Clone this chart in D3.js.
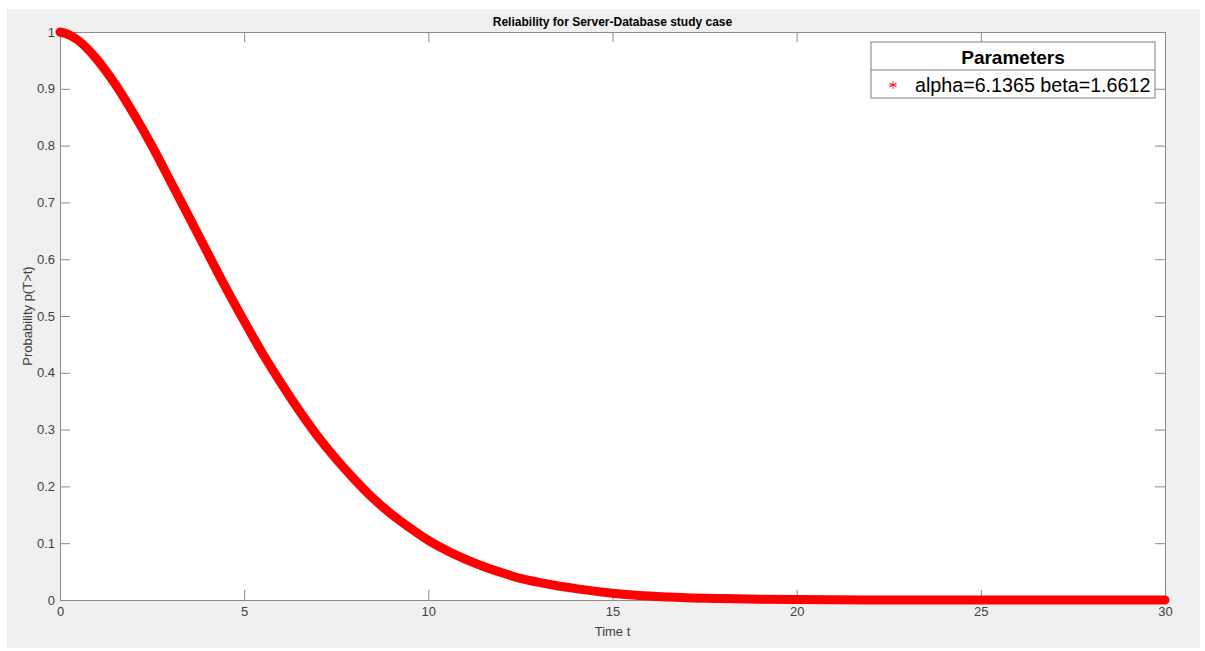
<!DOCTYPE html>
<html>
<head>
<meta charset="utf-8">
<script src="https://cdn.jsdelivr.net/npm/d3@7"></script>
<style>
  body { margin: 0; background: #fff; }
  svg { display: block; font-family: "Liberation Sans", Arial, sans-serif; }
</style>
</head>
<body>
<div id="container"></div>
<script>
// Chart dimensions
const width = 1205;
const height = 651;
const marginTop = 32;
const marginRight = 40;
const marginBottom = 51;
const marginLeft = 60;

// Data
const timeValues = [0, 0.25, 0.5, 1, 1.5, 2, 2.5, 3, 3.5, 4, 4.5, 5, 5.5, 6, 6.5, 7, 7.5, 8, 8.5, 9, 9.5,
  10, 10.5, 11, 11.5, 12, 12.5, 13, 13.5, 14, 15, 16, 17, 18, 19, 20, 21, 22, 23, 24, 25, 26, 27, 28, 29, 30];
const reliability = [1, 0.995, 0.985, 0.952, 0.908, 0.856, 0.799, 0.737, 0.675, 0.612, 0.550, 0.491, 0.434, 0.382, 0.333,
  0.288, 0.248, 0.212, 0.179, 0.151, 0.127, 0.105, 0.087, 0.072, 0.059, 0.048, 0.038, 0.031, 0.025, 0.020,
  0.012, 0.007, 0.004, 0.0025, 0.0015, 0.0008, 0.0004, 0.0002, 0.0001, 0, 0, 0, 0, 0, 0, 0];
const xTicks = [0, 5, 10, 15, 20, 25, 30];
const yTicks = [0, 0.1, 0.2, 0.3, 0.4, 0.5, 0.6, 0.7, 0.8, 0.9, 1];
const chartTitle = "Reliability for Server-Database study case";
const xLabel = "Time t";
const yLabel = "Probability p(T>t)";
const legendTitle = "Parameters";
const legendEntry = "alpha=6.1365 beta=1.6612";

const data = timeValues.map((t, i) => ({ t: t, r: reliability[i] }));

const x = d3.scaleLinear().domain([0, 30]).range([marginLeft, width - marginRight]);
const y = d3.scaleLinear().domain([0, 1]).range([height - marginBottom, marginTop]);

const svg = d3.select("#container").append("svg")
    .attr("width", width)
    .attr("height", height)
    .attr("viewBox", [0, 0, width, height]);

// figure background
svg.append("rect")
    .attr("x", 7).attr("y", 9)
    .attr("width", 1193).attr("height", 639)
    .attr("fill", "#f0f0f0");

// axes background
svg.append("rect")
    .attr("x", marginLeft).attr("y", marginTop)
    .attr("width", width - marginRight - marginLeft)
    .attr("height", height - marginBottom - marginTop)
    .attr("fill", "#fff");

const axisColor = "#8a8a8a";
const tickLen = 10;

// bottom / top axes, ticks pointing inward
svg.append("g")
    .attr("transform", `translate(0,${height - marginBottom})`)
    .call(d3.axisBottom(x).tickValues(xTicks).tickSizeInner(-tickLen).tickSizeOuter(0).tickPadding(7))
    .call(g => g.select(".domain").attr("stroke", axisColor))
    .call(g => g.selectAll(".tick line").attr("stroke", axisColor))
    .call(g => g.selectAll(".tick text").attr("fill", "#404040").style("font-size", "13px"));

svg.append("g")
    .attr("transform", `translate(0,${marginTop})`)
    .call(d3.axisTop(x).tickValues(xTicks).tickSizeInner(-tickLen).tickSizeOuter(0).tickFormat(""))
    .call(g => g.select(".domain").attr("stroke", axisColor))
    .call(g => g.selectAll(".tick line").attr("stroke", axisColor));

// left / right axes
svg.append("g")
    .attr("transform", `translate(${marginLeft},0)`)
    .call(d3.axisLeft(y).tickValues(yTicks).tickSizeInner(-tickLen).tickSizeOuter(0).tickPadding(5)
        .tickFormat(d => d3.format("")(+d.toFixed(1))))
    .call(g => g.select(".domain").attr("stroke", axisColor))
    .call(g => g.selectAll(".tick line").attr("stroke", axisColor))
    .call(g => g.selectAll(".tick text").attr("fill", "#404040").style("font-size", "13px"));

svg.append("g")
    .attr("transform", `translate(${width - marginRight},0)`)
    .call(d3.axisRight(y).tickValues(yTicks).tickSizeInner(-tickLen).tickSizeOuter(0).tickFormat(""))
    .call(g => g.select(".domain").attr("stroke", axisColor))
    .call(g => g.selectAll(".tick line").attr("stroke", axisColor));

// the curve (dense red markers rendered as a thick band)
const line = d3.line()
    .x(d => x(d.t))
    .y(d => y(d.r))
    .curve(d3.curveMonotoneX);

svg.append("path")
    .datum(data)
    .attr("fill", "none")
    .attr("stroke", "#ff0000")
    .attr("stroke-width", 9)
    .attr("stroke-linecap", "round")
    .attr("stroke-linejoin", "round")
    .attr("d", line);

// title and labels
svg.append("text")
    .attr("x", (marginLeft + width - marginRight) / 2)
    .attr("y", 26)
    .attr("text-anchor", "middle")
    .attr("fill", "#000")
    .style("font-size", "12px")
    .style("font-weight", "bold")
    .text(chartTitle);

svg.append("text")
    .attr("x", (marginLeft + width - marginRight) / 2)
    .attr("y", 636)
    .attr("text-anchor", "middle")
    .attr("fill", "#404040")
    .style("font-size", "13px")
    .text(xLabel);

svg.append("text")
    .attr("transform", `translate(32,${(marginTop + height - marginBottom) / 2}) rotate(-90)`)
    .attr("text-anchor", "middle")
    .attr("fill", "#404040")
    .style("font-size", "13px")
    .text(yLabel);

// legend
const legend = svg.append("g").attr("transform", "translate(871,42)");
const legendW = 284;
legend.append("rect")
    .attr("width", legendW).attr("height", 56)
    .attr("fill", "#fff")
    .attr("stroke", "#808080");
legend.append("line")
    .attr("x1", 0).attr("x2", legendW)
    .attr("y1", 28).attr("y2", 28)
    .attr("stroke", "#808080");
legend.append("text")
    .attr("x", legendW / 2)
    .attr("y", 22)
    .attr("text-anchor", "middle")
    .attr("fill", "#000")
    .style("font-size", "19px")
    .style("font-weight", "bold")
    .text(legendTitle);

// asterisk marker
const star = legend.append("g").attr("transform", "translate(22,43)");
[0, 60, 120].forEach(a => {
    star.append("line")
        .attr("x1", 0).attr("y1", -4).attr("x2", 0).attr("y2", 4)
        .attr("transform", `rotate(${a})`)
        .attr("stroke", "#ff0000").attr("stroke-width", 0.8);
});
star.append("line")
    .attr("x1", -4).attr("y1", 0).attr("x2", 4).attr("y2", 0)
    .attr("stroke", "#ff0000").attr("stroke-width", 0.8);

legend.append("text")
    .attr("x", 44)
    .attr("y", 50)
    .attr("fill", "#000")
    .style("font-size", "19.7px")
    .text(legendEntry);
</script>
</body>
</html>
